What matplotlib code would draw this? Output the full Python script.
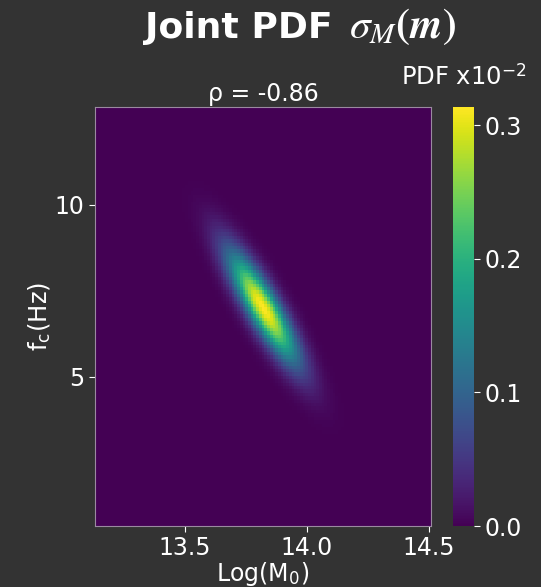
import numpy as np
import matplotlib
matplotlib.use("Agg")
import matplotlib.pyplot as plt

# Parametros da distribuicao conjunta
media_logm = 13.82
media_fc = 7.0
sigma_logm = 0.10
sigma_fc = 1.12
rho = -0.86
n_grid = 123

# Limites dos eixos
x_lim = (13.13, 14.51)
y_lim = (0.65, 12.85)
x_ticks = [13.5, 14.0, 14.5]
y_ticks = [5, 10]
cbar_ticks = [0.0, 0.1, 0.2, 0.3]

fundo = "#333333"
plt.rcParams["mathtext.fontset"] = "stix"

# Grade e PDF gaussiana bivariada (probabilidade por celula, x10^-2)
x = np.linspace(x_lim[0], x_lim[1], n_grid)
y = np.linspace(y_lim[0], y_lim[1], n_grid)
X, Y = np.meshgrid(x, y)
zx = (X - media_logm) / sigma_logm
zy = (Y - media_fc) / sigma_fc
q = (zx**2 - 2 * rho * zx * zy + zy**2) / (1 - rho**2)
pdf = np.exp(-0.5 * q) / (2 * np.pi * sigma_logm * sigma_fc * np.sqrt(1 - rho**2))
dx = x[1] - x[0]
dy = y[1] - y[0]
pdf = pdf * dx * dy * 100

fig = plt.figure(figsize=(5.41, 5.87), dpi=100, facecolor=fundo)
ax = fig.add_axes([0.1756, 0.1039, 0.621, 0.7138])
cax = fig.add_axes([0.8373, 0.1039, 0.0388, 0.7138])

im = ax.imshow(pdf, origin="lower", cmap="viridis", aspect="auto",
               extent=[x_lim[0], x_lim[1], y_lim[0], y_lim[1]],
               vmin=0, vmax=pdf.max(), interpolation="nearest")
ax.set_xticks(x_ticks)
ax.set_xticklabels(["13.5", "14.0", "14.5"])
ax.set_yticks(y_ticks)
ax.tick_params(colors="white", labelsize=17, length=4, width=0.8)
for s in ax.spines.values():
    s.set_color("#9a8aa0")
    s.set_linewidth(0.8)
ax.set_xlabel(r"Log(M$_\mathregular{0}$)", color="white", fontsize=17, labelpad=0)
ax.set_ylabel(r"f$_\mathregular{c}$(Hz)", color="white", fontsize=17.5, labelpad=2)
ax.set_title("ρ = -0.86", color="white", fontsize=17, pad=4)

cb = fig.colorbar(im, cax=cax, ticks=cbar_ticks)
cb.outline.set_visible(False)
cb.ax.tick_params(colors="white", labelsize=17, length=4, width=0.8)
cb.ax.set_yticklabels(["0.0", "0.1", "0.2", "0.3"])
fig.text(0.858, 0.8535, r"PDF x10$^\mathregular{-2}$", color="white", fontsize=17.5,
         ha="center", va="baseline")

# Titulo em duas partes (texto em negrito + parte matematica maior)
fig.text(333 / 541, 1 - 38 / 587, "Joint PDF", color="white", fontsize=26,
         fontweight="bold", ha="right", va="baseline")
fig.text(349 / 541, 1 - 38 / 587, r"$\sigma_M\mathbf{(}\boldsymbol{m}\mathbf{)}$",
         color="white", fontsize=30, ha="left", va="baseline")

plt.savefig("out.png", dpi=100, facecolor=fundo)
